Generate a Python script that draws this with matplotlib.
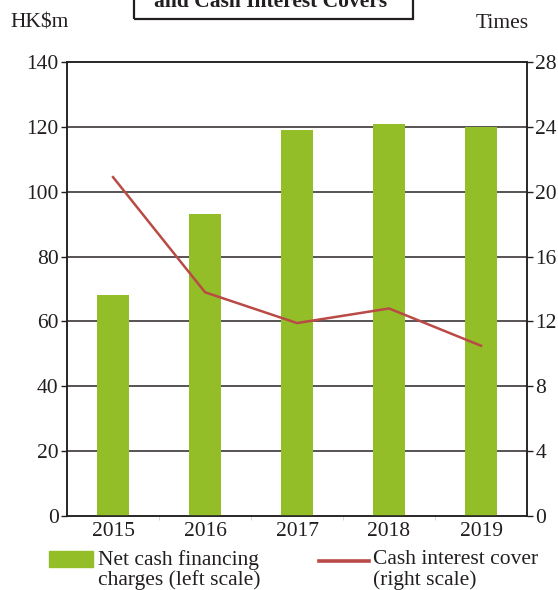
import matplotlib.pyplot as plt
from matplotlib.patches import Rectangle
from matplotlib.lines import Line2D

# Financing charges (HK$m, left) and cash interest cover (times, right)
years = ['2015', '2016', '2017', '2018', '2019']
financing_charges = [68, 93, 119, 121, 120]
interest_cover = [20.9, 13.8, 11.9, 12.8, 10.5]
left_ticks = [0, 20, 40, 60, 80, 100, 120, 140]
right_ticks = [0, 4, 8, 12, 16, 20, 24, 28]

GREEN = '#93be27'
RED = '#b94a45'
INK = '#231f20'
GRID = '#4a4446'
FS = 15.5

plt.rcParams['font.family'] = ['Liberation Serif', 'DejaVu Serif']
plt.rcParams['font.size'] = FS
plt.rcParams['text.color'] = INK

fig = plt.figure(figsize=(5.58, 5.90), dpi=100)
ax = fig.add_axes([0.1201, 0.1254, 0.8244, 0.7695])
x = list(range(len(years)))

ax.bar(x, financing_charges, width=0.35, color=GREEN, zorder=3)
ax.set_xlim(-0.5, len(years) - 0.5)
ax.set_ylim(0, 140)
ax.set_yticks(left_ticks)
ax.set_xticks(x)
ax.set_xticklabels(years)
for v in left_ticks[1:-1]:
    ax.axhline(v, color=GRID, lw=1.3, zorder=1)
ax.tick_params(axis='y', direction='out', length=4, width=1, colors=INK, pad=2, labelsize=FS)
ax.tick_params(axis='x', length=0, pad=4, colors=INK, labelsize=FS)
ax.set_xticks([i + 0.5 for i in x[:-1]], minor=True)
ax.tick_params(axis='x', which='minor', length=3, color='#d0d0d0')
for s in ax.spines.values():
    s.set_color(INK)
    s.set_linewidth(1.1)

ax2 = ax.twinx()
ax2.plot(x, interest_cover, color=RED, lw=1.8, zorder=4)
ax2.set_ylim(0, 28)
ax2.set_yticks(right_ticks)
ax2.tick_params(axis='y', direction='out', length=4, width=1, colors=INK, pad=2, labelsize=FS)
for s in ax2.spines.values():
    s.set_color(INK)
    s.set_linewidth(1.1)

W, H = 558, 590


def fx(px):
    return px / W


def fy(py):
    return 1 - py / H


# axis unit captions
fig.text(fx(10), fy(23), 'HK$m', ha='left', va='center', fontsize=FS)
fig.text(fx(529), fy(23), 'Times', ha='right', va='center', fontsize=FS)

# title box, cut by the top edge
fig.patches.append(Rectangle((fx(134), fy(19)), fx(413) - fx(134), 0.1,
                             transform=fig.transFigure, fill=False,
                             edgecolor=INK, lw=1.6))
fig.text(fx(271), fy(2), 'and Cash Interest Covers', ha='center', va='center',
         fontsize=FS, fontweight='bold')

# legend
fig.patches.append(Rectangle((fx(49), fy(567)), fx(93) - fx(49), fy(551) - fy(567),
                             transform=fig.transFigure, color=GREEN))
fig.text(fx(98), fy(560), 'Net cash financing', ha='left', va='center', fontsize=FS)
fig.text(fx(98), fy(580), 'charges (left scale)', ha='left', va='center', fontsize=FS)
fig.lines.append(Line2D([fx(319), fx(369)], [fy(561), fy(561)],
                        transform=fig.transFigure, color=RED, lw=2.6))
fig.text(fx(373), fy(560), 'Cash interest cover', ha='left', va='center', fontsize=FS)
fig.text(fx(373), fy(580), '(right scale)', ha='left', va='center', fontsize=FS)

fig.savefig('out.png', dpi=100)
